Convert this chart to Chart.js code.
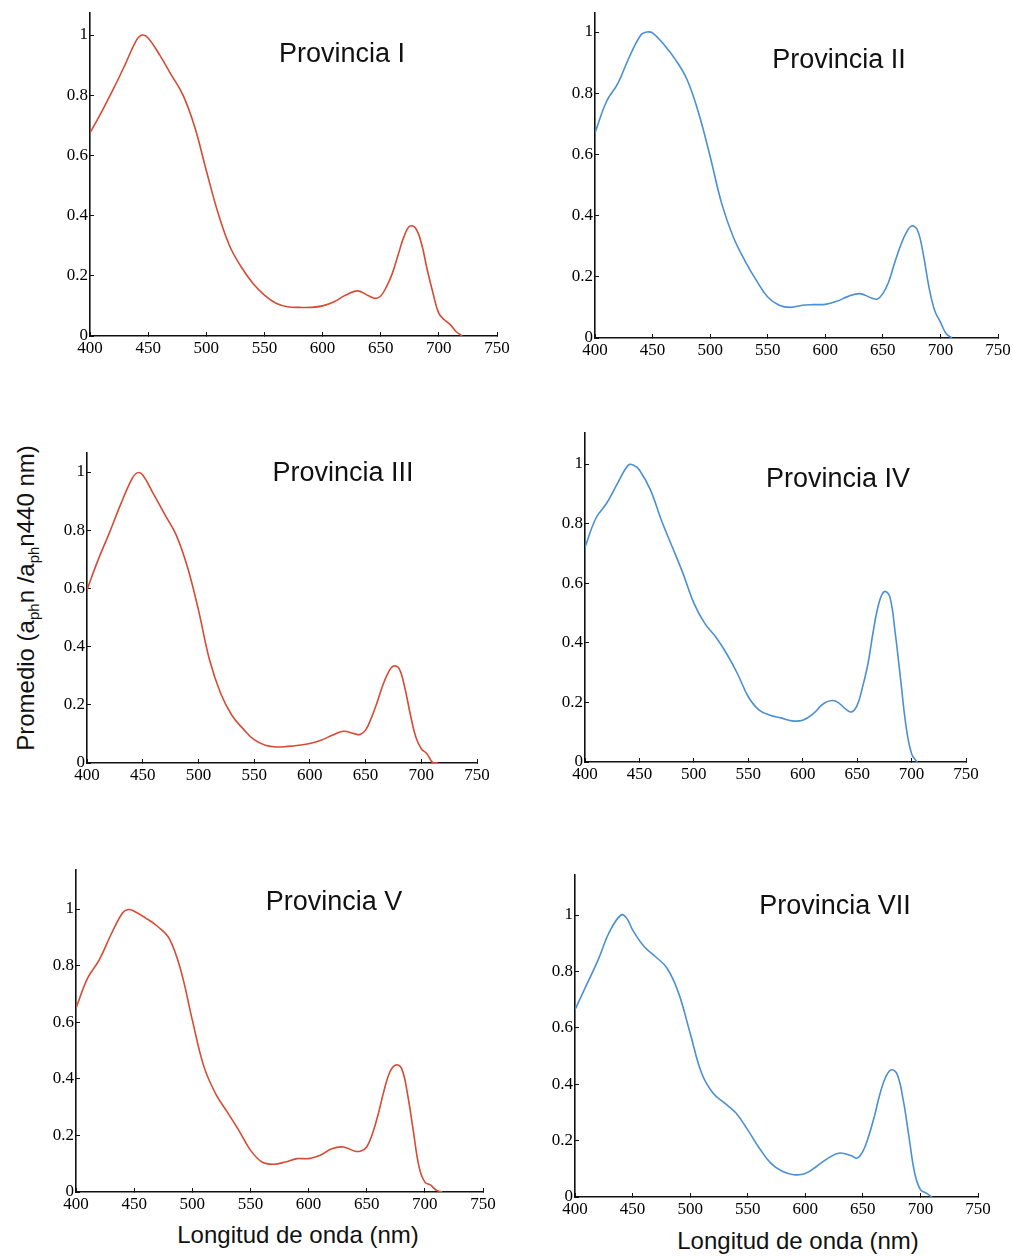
<!DOCTYPE html>
<html lang="es">
<head>
<meta charset="UTF-8">
<title>Espectros promedio de absorción por provincia</title>
<script src="https://cdn.jsdelivr.net/npm/chart.js"></script>
<style>
    body { margin: 0; background: #fff; }
    #lienzo {
        position: relative;
        width: 1013px;
        height: 1257px;
        overflow: hidden;
        font-family: "Liberation Sans", Arial, sans-serif;
        color: #111;
    }
    #lienzo canvas { position: absolute; }
    .titulo, .eje-x {
        position: absolute;
        white-space: nowrap;
        line-height: 1;
        transform: translate(-50%, -50%);
    }
    .titulo { font-size: 27px; }
    .eje-x { font-size: 24px; }
    .eje-y {
        position: absolute;
        left: 27px;
        top: 598px;
        font-size: 24px;
        line-height: 1;
        white-space: nowrap;
        transform: translate(-50%, -50%) rotate(-90deg);
    }
    .eje-y sub { font-size: 15px; vertical-align: -5px; }
</style>
</head>
<body>

<div id="lienzo">
    <div class="eje-y">Promedio (a<sub>ph</sub>n /a<sub>ph</sub>n440 nm)</div>
    <div class="eje-x" style="left:298px; top:1235px;">Longitud de onda (nm)</div>
    <div class="eje-x" style="left:798px; top:1241px;">Longitud de onda (nm)</div>
</div>

<script>
    // Longitudes de onda (nm) y espectros normalizados a 440 nm
    const longitudes = [400, 410, 420, 430, 440, 445, 450, 460, 470, 480, 490, 500, 510, 520, 530, 540, 550, 560, 570, 580, 590, 600,
                        610, 620, 630, 640, 645, 650, 655, 660, 665, 670, 675, 680, 685, 690, 695, 700, 705, 710, 715, 720];

    const provinciaI   = [0.675, 0.745, 0.82, 0.90, 0.983, 1.0, 0.99, 0.933, 0.867, 0.80, 0.695, 0.55, 0.41, 0.30, 0.23, 0.175, 0.136, 0.109, 0.097, 0.095, 0.095, 0.10,
                          0.114, 0.136, 0.15, 0.133, 0.125, 0.133, 0.164, 0.208, 0.27, 0.33, 0.365, 0.358, 0.308, 0.22, 0.142, 0.075, 0.053, 0.037, 0.014, 0];
    const provinciaII  = [0.67, 0.773, 0.833, 0.92, 0.991, 1.0, 0.997, 0.958, 0.909, 0.844, 0.735, 0.593, 0.44, 0.331, 0.254, 0.189, 0.134, 0.107, 0.10, 0.107, 0.109, 0.11,
                          0.12, 0.136, 0.145, 0.131, 0.127, 0.145, 0.183, 0.243, 0.298, 0.342, 0.366, 0.353, 0.276, 0.167, 0.09, 0.052, 0.014, 0, null, null];
    const provinciaIII = [0.595, 0.698, 0.79, 0.887, 0.974, 0.997, 0.99, 0.922, 0.853, 0.784, 0.675, 0.526, 0.354, 0.239, 0.164, 0.118, 0.08, 0.061, 0.055, 0.057, 0.061, 0.067,
                          0.078, 0.095, 0.109, 0.101, 0.098, 0.113, 0.153, 0.204, 0.262, 0.308, 0.333, 0.325, 0.262, 0.17, 0.09, 0.049, 0.032, 0.003, 0, null];
    const provinciaIV  = [0.72, 0.818, 0.869, 0.936, 0.997, 0.995, 0.98, 0.914, 0.813, 0.723, 0.633, 0.533, 0.465, 0.42, 0.364, 0.297, 0.219, 0.174, 0.157, 0.148, 0.138, 0.14,
                          0.163, 0.198, 0.205, 0.176, 0.168, 0.19, 0.252, 0.331, 0.443, 0.533, 0.572, 0.555, 0.432, 0.275, 0.118, 0.028, 0, null, null, null];
    const provinciaV   = [0.65, 0.756, 0.82, 0.909, 0.986, 0.998, 0.992, 0.968, 0.939, 0.897, 0.785, 0.608, 0.443, 0.348, 0.283, 0.218, 0.148, 0.106, 0.098, 0.106, 0.118, 0.118,
                          0.13, 0.153, 0.159, 0.144, 0.145, 0.159, 0.207, 0.277, 0.36, 0.425, 0.449, 0.437, 0.348, 0.218, 0.089, 0.035, 0.024, 0.006, 0, null];
    const provinciaVII = [0.664, 0.752, 0.84, 0.941, 1.0, 0.988, 0.947, 0.888, 0.852, 0.811, 0.723, 0.581, 0.439, 0.368, 0.333, 0.297, 0.238, 0.174, 0.12, 0.091, 0.079, 0.083,
                          0.109, 0.138, 0.156, 0.146, 0.138, 0.162, 0.215, 0.286, 0.368, 0.427, 0.451, 0.433, 0.345, 0.215, 0.085, 0.026, 0.014, 0, null, null];

    const ticksX = [400, 450, 500, 550, 600, 650, 700, 750];
    const ticksY = [0, 0.2, 0.4, 0.6, 0.8, 1];

    const rojo = '#d64b34';
    const azul = '#4a90d2';

    // Posición de cada panel en la página: izq/der = píxel de 400 y 750 nm,
    // arriba = extremo del eje y, cero/uno = píxel de los valores 0 y 1
    const paneles = [
        { titulo: 'Provincia I',   valores: provinciaI,   color: rojo, izq: 90,  der: 497, arriba: 13,  cero: 336,  uno: 35,  tx: 342, ty: 53 },
        { titulo: 'Provincia II',  valores: provinciaII,  color: azul, izq: 595, der: 998, arriba: 13,  cero: 338,  uno: 32,  tx: 839, ty: 59 },
        { titulo: 'Provincia III', valores: provinciaIII, color: rojo, izq: 87,  der: 477, arriba: 453, cero: 763,  uno: 472, tx: 343, ty: 472 },
        { titulo: 'Provincia IV',  valores: provinciaIV,  color: azul, izq: 585, der: 966, arriba: 433, cero: 762,  uno: 464, tx: 838, ty: 478 },
        { titulo: 'Provincia V',   valores: provinciaV,   color: rojo, izq: 76,  der: 483, arriba: 870, cero: 1192, uno: 909, tx: 334, ty: 901 },
        { titulo: 'Provincia VII', valores: provinciaVII, color: azul, izq: 575, der: 978, arriba: 875, cero: 1197, uno: 915, tx: 835, ty: 905 }
    ];

    const ANCHO_Y = 40;     // ancho reservado al eje y
    const ALTO_X = 24;      // alto reservado al eje x
    const MARGEN_SUP = 22;
    const MARGEN_DER = 26;

    const fuenteTicks = { family: '"Liberation Serif", "Times New Roman", serif', size: 17 };
    const lienzo = document.getElementById('lienzo');

    function ejeComun(valores, extra) {
        return Object.assign({
            type: 'linear',
            afterBuildTicks: (s) => { s.ticks = valores.map(value => ({ value })); },
            grid: { display: true, drawOnChartArea: false, drawTicks: true, tickLength: -4, color: '#111', lineWidth: 1 },
            border: { display: true, color: '#111', width: 1.6 },
            ticks: { font: fuenteTicks, color: '#000', padding: 6, autoSkip: false, maxRotation: 0 }
        }, extra);
    }

    paneles.forEach(p => {
        const canvas = document.createElement('canvas');
        canvas.width = ANCHO_Y + (p.der - p.izq) + MARGEN_DER;
        canvas.height = MARGEN_SUP + (p.cero - p.arriba) + ALTO_X;
        canvas.style.left = (p.izq - ANCHO_Y) + 'px';
        canvas.style.top = (p.arriba - MARGEN_SUP) + 'px';
        lienzo.appendChild(canvas);

        const titulo = document.createElement('div');
        titulo.className = 'titulo';
        titulo.textContent = p.titulo;
        titulo.style.left = p.tx + 'px';
        titulo.style.top = p.ty + 'px';
        lienzo.appendChild(titulo);

        const yMax = (p.cero - p.arriba) / (p.cero - p.uno);
        const puntos = longitudes
            .map((x, i) => ({ x, y: p.valores[i] }))
            .filter(pt => pt.y !== null);

        new Chart(canvas, {
            type: 'line',
            data: {
                datasets: [{
                    label: p.titulo,
                    data: puntos,
                    borderColor: p.color,
                    borderWidth: 1.6,
                    pointRadius: 0,
                    tension: 0.4,
                    fill: false
                }]
            },
            options: {
                responsive: false,
                animation: false,
                events: [],
                layout: { padding: { top: MARGEN_SUP, right: MARGEN_DER, left: 0, bottom: 0 } },
                plugins: { legend: { display: false }, tooltip: { enabled: false } },
                scales: {
                    x: ejeComun(ticksX, {
                        min: 400, max: 750,
                        afterFit: (s) => { s.height = ALTO_X; }
                    }),
                    y: ejeComun(ticksY, {
                        min: 0, max: yMax,
                        afterFit: (s) => { s.width = ANCHO_Y; },
                        ticks: { font: fuenteTicks, color: '#000', padding: 6, autoSkip: false,
                                 callback: (v) => String(Number(v.toFixed(1))) }
                    })
                }
            }
        });
    });
</script>

</body>
</html>
